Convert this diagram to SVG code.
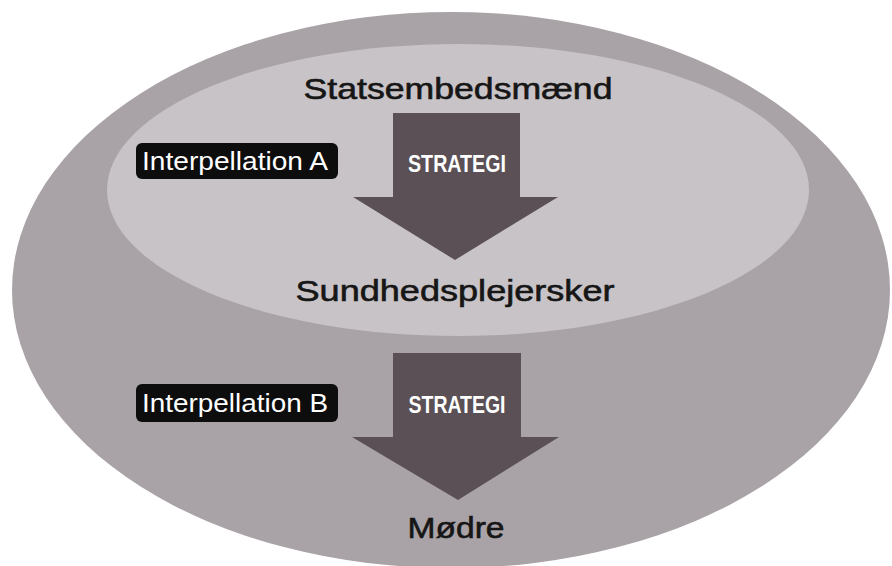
<svg xmlns="http://www.w3.org/2000/svg" width="892" height="566" viewBox="0 0 892 566">
<style>
.lbl{font-family:"Liberation Sans",Arial,sans-serif;font-size:30px;fill:#161616;stroke:#161616;stroke-width:0.6;text-anchor:middle}
.strat{font-family:"Liberation Sans Narrow","Liberation Sans",Arial,sans-serif;font-size:23px;font-weight:bold;fill:#ffffff;text-anchor:middle}
.tag{fill:#0d0d0d}
.tagt{font-family:"Liberation Sans",Arial,sans-serif;font-size:26px;fill:#ffffff}
.arrow{fill:#5a5055}
</style>
<rect width="892" height="566" fill="#ffffff"/>
<g id="outer"><ellipse cx="451" cy="290" rx="439" ry="278" fill="#a9a3a7"/></g>
<g id="inner"><ellipse cx="458" cy="190" rx="351" ry="146" fill="#c8c3c6"/></g>
<g id="connectors">
<path class="arrow" d="M393 113 H520 V197 H558 L455 260 L353 197 H393 Z"/>
<path class="arrow" d="M393 353 H521 V437 H559 L458 500 L352 437 H393 Z"/>
<text class="strat" x="457" y="172" textLength="98" lengthAdjust="spacingAndGlyphs">STRATEGI</text>
<text class="strat" x="457" y="413" textLength="97" lengthAdjust="spacingAndGlyphs">STRATEGI</text>
</g>
<g id="n-stats"><text class="lbl" x="458" y="99" textLength="309" lengthAdjust="spacingAndGlyphs">Statsembedsmænd</text></g>
<g id="n-sundhed"><text class="lbl" x="455" y="301" textLength="319" lengthAdjust="spacingAndGlyphs">Sundhedsplejersker</text></g>
<g id="n-modre"><text class="lbl" x="456" y="538" textLength="97" lengthAdjust="spacingAndGlyphs">Mødre</text></g>
<g id="tag-a"><rect class="tag" x="136" y="143" width="202" height="36" rx="6"/><text class="tagt" x="142" y="170" textLength="186" lengthAdjust="spacingAndGlyphs">Interpellation A</text></g>
<g id="tag-b"><rect class="tag" x="136" y="384" width="202" height="38" rx="6"/><text class="tagt" x="142" y="412" textLength="186" lengthAdjust="spacingAndGlyphs">Interpellation B</text></g>
</svg>
